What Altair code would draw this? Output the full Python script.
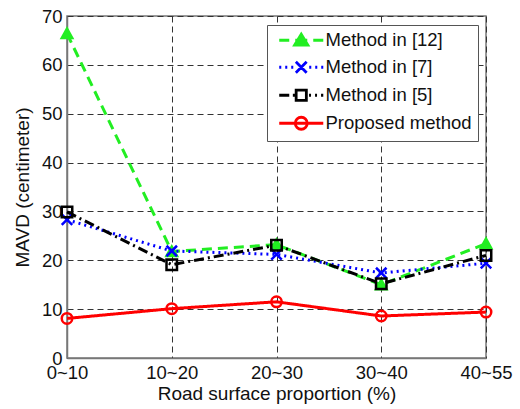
import altair as alt
import pandas as pd

categories = ["0~10", "10~20", "20~30", "30~40", "40~55"]
series_names = ["Method in [12]", "Method in [7]", "Method in [5]", "Proposed method"]
method12 = [66.4, 21.8, 23.2, 15.0, 23.4]
method7 = [28.3, 21.9, 21.2, 17.4, 19.4]
method5 = [29.9, 19.1, 23.1, 15.2, 21.0]
proposed = [8.1, 10.1, 11.5, 8.6, 9.4]

rows = []
for name, vals in zip(series_names, [method12, method7, method5, proposed]):
    for c, v in zip(categories, vals):
        rows.append({"category": c, "series": name, "pseries": "pt " + name,
                     "dseries": "ln " + name, "value": v})
df = pd.DataFrame(rows)

# one domain for colour/fill/shape: legend entries first, marker entries after
point_names = ["pt " + n for n in series_names]
line_names = ["ln " + n for n in series_names]
domain = series_names + point_names

colors = ["#22ee22", "#0000ff", "#000000", "#ff0000"]
dashes = [[10, 6], [2, 4], [10, 4, 2, 4], [1, 0]]
fills = ["#22ee22", "transparent", "transparent", "transparent"]

tri = "M-1,0.85L0,-0.95L1,0.85Z"
xs = "M-1,-1L1,1M-1,1L1,-1"
sq = "M-1,-1L1,-1L1,1L-1,1Z"
circ = "M1,0A1,1 0 1,1 -1,0A1,1 0 1,1 1,0Z"
plot_shapes = [tri, xs, sq, circ]

# legend symbols: line pattern drawn into the symbol, marker solid
leg_shapes = [
    "M-3.67,0L-2.0,0M-1.0,0L1.0,0M2.0,0L3.67,0" + "M-1.1,0.8L0,-1.0L1.1,0.8Z",
    "M-3.67,0L-3.33,0M-2.67,0L-2.33,0M-1.67,0L-1.33,0M1.33,0L1.67,0M2.33,0L2.67,0M3.33,0L3.67,0"
    + "M-0.9,-0.9L0.9,0.9M-0.9,0.9L0.9,-0.9",
    "M-3.67,0L-2.0,0M-1.4,0L-1.05,0M1.3,0L1.63,0M2.3,0L2.63,0M3.3,0L3.67,0"
    + "M-0.85,-0.85L0.85,-0.85L0.85,0.85L-0.85,0.85Z",
    "M-3.67,0L3.67,0" + "M1,0A1,1 0 1,1 -1,0A1,1 0 1,1 1,0Z",
]

font = "Liberation Sans"
x = alt.X("category:O", sort=categories, scale=alt.Scale(type="point", padding=0),
          axis=alt.Axis(title="Road surface proportion (%)", labelAngle=0))
y = alt.Y("value:Q", scale=alt.Scale(domain=[0, 70], nice=False),
          axis=alt.Axis(title="MAVD (centimeter)", values=list(range(0, 71, 10))))
leg = alt.Legend(title=None, values=series_names)

cscale = alt.Scale(domain=domain, range=colors + colors)
fscale = alt.Scale(domain=domain, range=fills + fills)
dscale = alt.Scale(domain=line_names, range=dashes)
sscale = alt.Scale(domain=domain, range=leg_shapes + plot_shapes)

lines = alt.Chart(df).mark_line(strokeWidth=3).encode(
    x=x, y=y,
    color=alt.Color("series:N", scale=cscale, legend=leg),
    strokeDash=alt.StrokeDash("dseries:N", scale=dscale, legend=None),
)
points = alt.Chart(df).mark_point(size=110, strokeWidth=2.5, opacity=1).encode(
    x=x, y=y,
    color=alt.Color("pseries:N", scale=cscale, legend=leg),
    fill=alt.Fill("pseries:N", scale=fscale, legend=leg),
    shape=alt.Shape("pseries:N", scale=sscale, legend=leg),
)

chart = alt.layer(lines, points).properties(
    width=419, height=342,
    autosize=alt.AutoSizeParams(type="none"),
    padding={"left": 67, "top": 16, "right": 34, "bottom": 51},
).configure_view(
    stroke="#777777", strokeWidth=1.5,
).configure_axis(
    labelFont=font, titleFont=font, labelFontSize=18.5, titleFontSize=19,
    labelColor="#111111", titleColor="#111111", titleFontWeight="normal",
    grid=True, gridColor="#333333", gridDash=[6, 4], gridWidth=1,
    domainColor="#777777", domainWidth=1.5,
    ticks=False, labelPadding=5,
).configure_axisX(
    titlePadding=3,
).configure_axisY(
    titlePadding=9,
).configure_legend(
    orient="none", legendX=200, legendY=9,
    labelFont=font, labelFontSize=18.5, labelColor="#111111",
    strokeColor="#555555", fillColor="white", padding=6,
    symbolSize=144, symbolStrokeWidth=2.8, rowPadding=5, labelLimit=300,
    symbolOffset=19, labelOffset=15, symbolOpacity=1, columnPadding=0,
)

chart.save("out.html", embed_options={"renderer": "svg", "actions": False})
